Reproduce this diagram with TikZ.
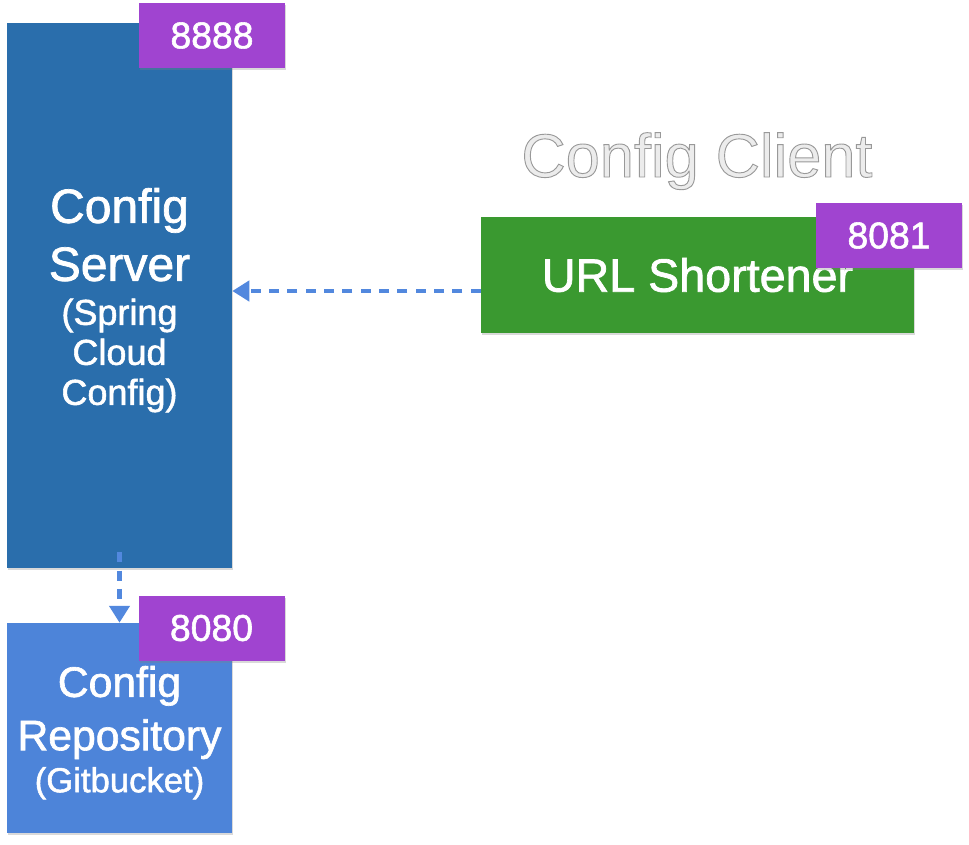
\documentclass[tikz,border=0pt]{standalone}
\usepackage{fontspec}
\setmainfont{Liberation Sans}
\newfontfamily\heavyfont{Liberation Sans}[FakeBold=1.5]
\usepackage{xcolor}
\usetikzlibrary{arrows.meta,shadows}

\definecolor{srvblue}{RGB}{42,110,172}
\definecolor{repoblue}{RGB}{77,132,217}
\definecolor{cligreen}{RGB}{58,153,48}
\definecolor{portpurple}{RGB}{160,68,208}
\definecolor{linkblue}{RGB}{82,136,222}
\definecolor{titlegrey}{RGB}{236,236,236}

% outlined title text (stroke + fill)
\newcommand{\outlined}[1]{\special{pdf:code q 2 Tr 1.8 w 0.6 0.6 0.6 RG}#1\special{pdf:code Q}}

\begin{document}
\begin{tikzpicture}[x=0.75pt,y=-0.75pt,
    box/.style={inner sep=0pt,
      drop shadow={shadow xshift=0.8pt,shadow yshift=-1.5pt,opacity=0.3}},
    boxtext/.style={inner sep=0pt,text=white,align=center},
    port/.style={fill=portpurple,minimum width=109.5pt,minimum height=48.75pt,inner sep=0pt,
      text=white,font=\heavyfont\fontsize{28}{30}\selectfont,
      drop shadow={shadow xshift=1pt,shadow yshift=-1.5pt,opacity=0.3}},
    link/.style={draw=linkblue,line width=3.2pt,dash pattern=on 7.5pt off 6.25pt,
      -{Triangle[length=12.75pt,width=15pt]}}]
  \useasboundingbox (0,0) rectangle (969,844);

  %Shape: Config Server
  \node[box,fill=srvblue,minimum width=168.75pt,minimum height=408.75pt] (server) at (119.5,295.5) {};
  %Shape: Config Repository
  \node[box,fill=repoblue,minimum width=168.75pt,minimum height=157.5pt] (repo) at (119.5,728) {};
  %Shape: URL Shortener
  \node[box,fill=cligreen,minimum width=324.75pt,minimum height=87pt] (client) at (697.5,275) {};

  % Text Node
  \node[boxtext,font={\heavyfont\lineskiplimit=-100pt\fontsize{27}{30}\selectfont}] (servertext)
    at ([yshift=-3.5pt]server.center)
    {{\fontsize{36}{36}\selectfont Config}\\[13.5pt]{\fontsize{36}{36}\selectfont Server}\\[3pt](Spring\\Cloud\\Config)};
  % Text Node
  \node[boxtext,font={\heavyfont\lineskiplimit=-100pt\fontsize{26}{31.5}\selectfont}] (repotext)
    at ([yshift=-3.5pt]repo.center)
    {{\fontsize{32}{32}\selectfont Config}\\[8.5pt]{\fontsize{32}{32}\selectfont Repository}\\(Gitbucket)};
  % Text Node
  \node[boxtext,font=\heavyfont\fontsize{35}{38}\selectfont] (clienttext) at (client.center) {URL Shortener};
  % Text Node
  \node[anchor=base,text=titlegrey,font=\heavyfont\fontsize{46}{50}\selectfont] (title) at (697,177)
    {\outlined{Config Client}};

  %Straight Lines
  \coordinate (cliout) at ([yshift=-12pt]client.west);
  \draw[link] (cliout) -- (server.east |- cliout);
  \coordinate (srvout) at ([yshift=12pt]server.south);
  \draw[link] (srvout) -- (repo.north);

  %Shape: ports
  \node[port] (port8888) at (212,35.5) {8888};
  \node[port] (port8080) at (211.5,628) {8080};
  \node[port] (port8081) at (889,235.5) {8081};

\end{tikzpicture}
\end{document}
